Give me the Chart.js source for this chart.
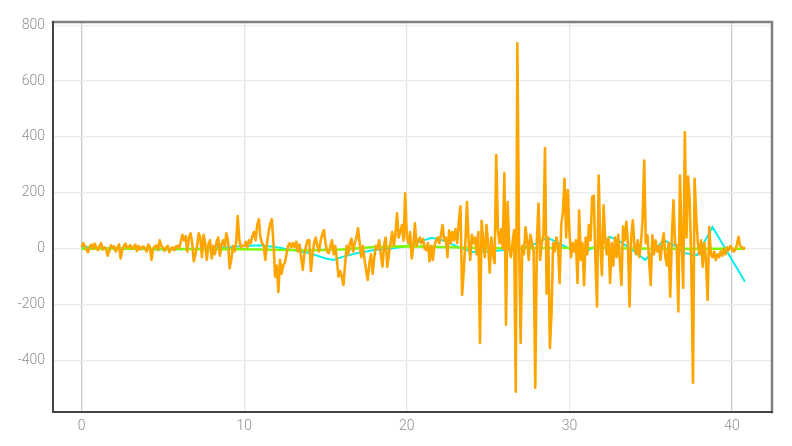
<!DOCTYPE html>
<html>
<head>
<meta charset="utf-8">
<script src="https://cdn.jsdelivr.net/npm/chart.js@4/dist/chart.umd.min.js"></script>
<style>
html,body{margin:0;padding:0;background:#fff;}
#wrap{width:792px;height:446px;position:relative;}
</style>
</head>
<body>
<div id="wrap"><canvas id="c" width="792" height="446"></canvas></div>
<script>
// Orange series: sampled every 0.1 from x = 0
const orangeStart = 0;
const orangeStep = 0.1;
const orangeValues = [
  5, 20, 10, -5, -12, 8, 15, 0, 18, 5,
  -5, 10, 20, -3, 5, 0, -25, -8, 12, 5,
  8, -10, 3, 15, -35, -5, 10, 18, 2, 8,
  12, 0, 5, 15, -8, 10, -3, 5, 8, 0,
  -10, 15, 5, -40, 0, 8, 12, -5, 30, 10,
  3, -8, 5, 10, -12, 0, 5, -5, 8, 10,
  2, 25, 50, 30, 45, -10, 40, 55, 20, -45,
  -20, 10, 55, 40, -30, 50, 20, -40, 15, 30,
  -35, 10, -20, 25, 40, -25, 15, 30, 8, 55,
  30, -70, -40, 10, -10, 20, 117, 30, 5, 10,
  10, 25, 5, 30, 20, 45, 60, 30, 85, 106,
  40, 20, 10, -40, 20, 60, 90, 106, 20, -100,
  -60, -155, -40, -90, -60, -50, -20, 10, 20, 5,
  20, 5, 25, -10, 15, -30, -76, -20, 10, 30,
  30, -80, -20, 20, 40, 10, -10, 30, 50, 67,
  20, -10, -15, 10, 30, -20, 10, -40, -100, -80,
  -100, -130, -60, 10, -20, 20, 36, -10, 20, 40,
  73, 20, -30, 10, -40, -80, -112, -50, -20, -90,
  -30, 10, 0, 30, -20, -64, 10, 40, -65, -20,
  20, 60, 10, 50, 127, 40, 60, 85, 30, 198,
  40, 20, 60, -35, 10, 91, 10, 30, 40, 20,
  35, 0, -5, 20, -45, 10, -40, 10, 30, 40,
  20, 50, 85, 30, 40, -30, 65, 20, 60, 30,
  70, 20, 100, 152, -165, -80, 20, 167, 30, -40,
  50, 20, 40, -20, 60, -337, 100, 30, -30, 85,
  20, -86, 40, -20, -52, 335, 67, 20, 70, 0,
  270, -272, 167, 10, -30, 20, 67, -512, 735, 40,
  -337, 10, -20, 77, 30, -40, 50, 20, -10, -498,
  30, 162, -40, 20, 50, 360, -160, 40, -355, -230,
  20, -10, 40, 10, -123, 87, 130, 250, 40, 210,
  60, -30, 20, -10, 30, -123, 137, -40, 20, -131,
  40, -20, 85, 30, 185, 190, -40, -207, 262, 20,
  -95, 155, 30, -20, 40, -123, 20, -60, 40, -30,
  50, -40, -130, 79, 30, 96, 20, -207, 40, 102,
  10, -20, 30, -30, 20, 102, 316, 20, 48, -40,
  -130, 48, -20, 30, -10, 10, -40, 20, 55, -30,
  -60, 20, -172, 40, 173, 20, 10, -225, 262, 30,
  -140, 417, 40, 258, 170, -60, -480, 250, 115, 20,
  -20, 30, -64, 20, -40, -183, 78, -20, -30, -10,
  -40, -20, -30, -10, -25, 0, -20, 5, -5, 10,
  0, -10, -5, 15, 43, 10, 5, 0, 5
];

const cyanX = [0, 1, 2, 3, 4, 5, 6, 7, 8, 9, 10, 11, 12, 13, 14, 15, 15.5, 16, 17, 18, 19, 20, 21, 21.5, 22, 23, 24, 25, 26, 27, 28, 28.6, 29, 30, 31, 32, 32.5, 33, 34, 34.65, 35, 35.8, 36.5, 37, 37.85, 38.8, 40.8];
const cyanY = [8, 3, 2, 0, -2, -3, -2, 0, 3, 5, 10, 12, 5, -5, -15, -35, -40, -30, -15, -5, 0, 10, 30, 38, 35, 10, -12, -10, -5, 0, 20, 40, 30, 0, -10, 20, 42, 30, -10, -40, -20, 30, 10, -15, -23, 78, -118];

const greenX = [0, 2, 4, 6, 8, 10, 12, 14, 16, 18, 20, 22, 24, 26, 28, 30, 32, 34, 36, 38, 40, 40.8];
const greenY = [0, 0, 0, -1, -2, -2, -4, -6, -3, 6, 9, 6, 3, 2, 2, 3, 2, 1, 0, 0, 0, 0];

const xTicks = [0, 10, 20, 30, 40];
const yTicks = [-400, -200, 0, 200, 400, 600, 800];

const orangeData = orangeValues.map((v, i) => ({x: +(orangeStart + i * orangeStep).toFixed(2), y: v}));
const cyanData = cyanX.map((x, i) => ({x: x, y: cyanY[i]}));
const greenData = greenX.map((x, i) => ({x: x, y: greenY[i]}));

const frame = {
  id: 'frame',
  afterDraw(chart) {
    const a = chart.chartArea, ctx = chart.ctx;
    ctx.save();
    ctx.lineCap = 'square';
    ctx.strokeStyle = '#808080';
    ctx.lineWidth = 2.5;
    ctx.beginPath();
    ctx.moveTo(a.left, a.top); ctx.lineTo(a.right, a.top); ctx.lineTo(a.right, a.bottom);
    ctx.stroke();
    ctx.strokeStyle = '#444444';
    ctx.lineWidth = 2;
    ctx.beginPath();
    ctx.moveTo(a.left, a.top); ctx.lineTo(a.left, a.bottom); ctx.lineTo(a.right, a.bottom);
    ctx.stroke();
    ctx.restore();
  }
};

const tickFont = {family: 'Roboto, "Liberation Sans", sans-serif', size: 14, weight: 300};

new Chart(document.getElementById('c'), {
  type: 'scatter',
  data: {
    datasets: [
      {data: orangeData, showLine: true, borderColor: '#FFA500', borderWidth: 2.6, borderJoinStyle: 'round', pointRadius: 0, tension: 0},
      {data: greenData, showLine: true, borderColor: '#7CFC00', borderWidth: 2.4, pointRadius: 0, tension: 0},
      {data: cyanData, showLine: true, borderColor: '#00F0F0', borderWidth: 2, pointRadius: 0, tension: 0}
    ]
  },
  options: {
    responsive: false,
    animation: false,
    layout: {padding: {top: 22, right: 20, left: 0, bottom: 0}},
    plugins: {legend: {display: false}, tooltip: {enabled: false}},
    scales: {
      x: {
        type: 'linear', min: -1.76, max: 42.46,
        afterBuildTicks(s) { s.ticks = xTicks.map(v => ({value: v})); },
        afterFit(s) { s.height = 34; },
        grid: {
          drawTicks: false,
          color: c => (c.tick && (c.tick.value === 0 || c.tick.value === 40)) ? '#cccccc' : '#e6e6e6',
          lineWidth: 1.3
        },
        border: {display: false},
        ticks: {padding: 6, color: '#8f8f8f', font: tickFont}
      },
      y: {
        type: 'linear', min: -584.6, max: 811.7,
        afterBuildTicks(s) { s.ticks = yTicks.map(v => ({value: v})); },
        afterFit(s) { s.width = 53; },
        grid: {drawTicks: false, color: '#ebebeb', lineWidth: 1.3},
        border: {display: false},
        ticks: {padding: 8, color: '#8f8f8f', font: tickFont}
      }
    }
  },
  plugins: [frame]
});
</script>
</body>
</html>
